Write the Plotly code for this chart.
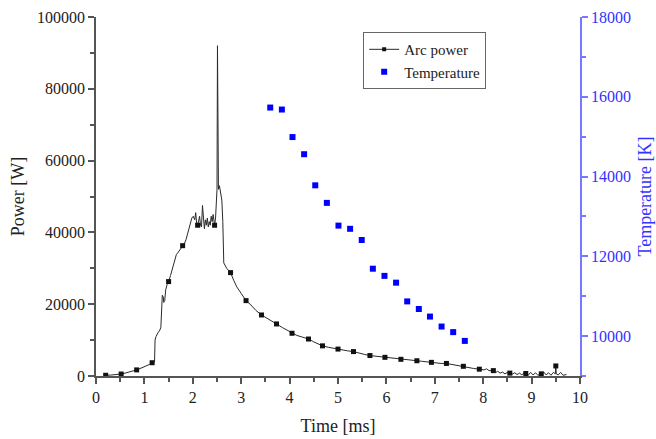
import plotly.graph_objects as go

# Arc power trace (time in ms, power in W)
time_ms = [0.17, 0.20, 0.30, 0.40, 0.52, 0.60, 0.70, 0.84, 0.95, 1.05, 1.10, 1.16, 1.21,
           1.22, 1.24, 1.28, 1.32, 1.34, 1.36, 1.37, 1.39, 1.40, 1.42, 1.44, 1.47, 1.50,
           1.54, 1.58, 1.62, 1.66, 1.70, 1.74, 1.79, 1.83, 1.86, 1.90, 1.95, 1.98, 2.01,
           2.04, 2.06, 2.08, 2.10, 2.12, 2.14, 2.16, 2.18, 2.20, 2.22, 2.24, 2.26, 2.28,
           2.30, 2.32, 2.34, 2.36, 2.38, 2.40, 2.42, 2.45, 2.47, 2.49, 2.50, 2.51, 2.515,
           2.52, 2.525, 2.53, 2.55, 2.58, 2.60, 2.62, 2.64, 2.70, 2.78, 2.85, 2.91, 3.00,
           3.10, 3.20, 3.30, 3.42, 3.50, 3.60, 3.73, 3.85, 3.95, 4.05, 4.15, 4.25, 4.39,
           4.50, 4.60, 4.68, 4.80, 4.90, 5.00, 5.10, 5.20, 5.32, 5.42, 5.55, 5.66, 5.78,
           5.88, 5.97, 6.08, 6.20, 6.30, 6.42, 6.52, 6.63, 6.73, 6.83, 6.93, 7.03, 7.13,
           7.24, 7.35, 7.47, 7.59, 7.70, 7.80, 7.92, 8.02, 8.07, 8.12, 8.21, 8.26, 8.30,
           8.35, 8.40, 8.45, 8.50, 8.55, 8.60, 8.65, 8.70, 8.75, 8.80, 8.85, 8.88, 8.93,
           8.98, 9.03, 9.08, 9.13, 9.20, 9.25, 9.30, 9.35, 9.40, 9.45, 9.49, 9.50, 9.51,
           9.55, 9.60, 9.65, 9.72]
power_w = [100, 200, 250, 350, 550, 800, 1100, 1700, 2300, 2800, 3200, 3700, 4000,
           10000, 11000, 12000, 12800, 13600, 18000, 22500, 22000, 20500, 21000, 24000, 25500, 26300,
           28000, 30000, 32500, 33800, 34500, 35200, 36300, 37000, 38000, 40000, 42500, 44000, 44500,
           43500, 45500, 42500, 42000, 43000, 44500, 42000, 41500, 47500, 43000, 41000, 43500, 42000,
           44000, 41500, 43000, 42000, 44500, 43000, 45000, 42000, 44000, 48000, 52000, 92000, 60000,
           78000, 62000, 52000, 53000, 51000, 49000, 43000, 31500, 30000, 28800, 26500, 24800, 23000,
           21000, 19800, 18300, 17000, 16300, 15500, 14500, 13500, 12700, 11900, 11300, 10900, 10300,
           9500, 8900, 8400, 8000, 7700, 7500, 7200, 7000, 6800, 6400, 6000, 5700, 5500,
           5300, 5200, 5000, 4800, 4650, 4500, 4400, 4250, 4100, 3900, 3800, 3700, 3500,
           3500, 3200, 3000, 2700, 2400, 2100, 1900, 1700, 2000, 1500, 1500, 1000, 1300,
           800, 1100, 600, 1000, 800, 500, 900, 400, 800, 300, 900, 700, 200,
           1000, 300, 900, 200, 600, 1100, 300, 900, 200, 1000, 600, 2800, 600,
           300, 1000, 200, 400]
marker_times = [0.20, 0.52, 0.84, 1.16, 1.50, 1.79, 2.10, 2.45, 2.78, 3.10, 3.42, 3.73,
                4.05, 4.39, 4.68, 5.00, 5.32, 5.66, 5.97, 6.30, 6.63, 6.93, 7.24, 7.59,
                7.92, 8.21, 8.55, 8.88, 9.20, 9.50]

# Temperature points (time in ms, temperature in K)
temp_time = [3.60, 3.84, 4.06, 4.30, 4.53, 4.77, 5.01, 5.25, 5.49, 5.72, 5.96, 6.20,
             6.43, 6.67, 6.90, 7.14, 7.38, 7.62]
temperature = [15730, 15680, 14990, 14560, 13780, 13340, 12770, 12690, 12410, 11690,
               11510, 11340, 10870, 10680, 10490, 10240, 10100, 9880]

x_ticks = list(range(0, 11))
power_ticks = [0, 20000, 40000, 60000, 80000, 100000]
temp_ticks = [10000, 12000, 14000, 16000, 18000]

mk = set(round(t, 3) for t in marker_times)
mx = [t for t in time_ms if round(t, 3) in mk]
my = [p for t, p in zip(time_ms, power_w) if round(t, 3) in mk]

FONT = "Liberation Serif"
AX = "#555555"
BLUE = "#0000ff"
LBLUE = "#7777ff"

fig = go.Figure()
fig.add_trace(go.Scatter(x=time_ms, y=power_w, mode="lines",
                         line=dict(color="#2a2a2a", width=1), showlegend=False,
                         hoverinfo="skip"))
fig.add_trace(go.Scatter(x=mx, y=my, mode="markers",
                         marker=dict(symbol="square", size=5, color="#111111"),
                         showlegend=False))
fig.add_trace(go.Scatter(x=[None], y=[None], mode="lines+markers", name="Arc power",
                         line=dict(color="#2a2a2a", width=1),
                         marker=dict(symbol="square", size=4, color="#111111")))
fig.add_trace(go.Scatter(x=temp_time, y=temperature, mode="markers", name="Temperature",
                         marker=dict(symbol="square", size=6, color=BLUE), yaxis="y2"))

fig.update_layout(
    width=656, height=439,
    margin=dict(l=96, r=76, t=17, b=63),
    paper_bgcolor="white", plot_bgcolor="white",
    font=dict(family=FONT, size=16, color="#222222"),
    xaxis=dict(range=[0, 10], tickvals=x_ticks, showline=True, linecolor=AX, linewidth=1.5,
               ticks="outside", ticklen=6, tickcolor=AX, tickwidth=1.5,
               minor=dict(dtick=0.5, ticks="outside", ticklen=4, tickcolor=AX),
               showgrid=False, zeroline=False, automargin=False,
               title=dict(text="Time [ms]", font=dict(size=18), standoff=14)),
    yaxis=dict(range=[0, 100000], tickvals=power_ticks, tickformat="d", showline=True,
               linecolor=AX, linewidth=1.5, ticks="outside", ticklen=6, tickcolor=AX,
               tickwidth=1.5, automargin=False,
               minor=dict(dtick=10000, ticks="outside", ticklen=4, tickcolor=AX),
               showgrid=False, zeroline=False,
               title=dict(text="Power [W]", font=dict(size=18), standoff=8)),
    yaxis2=dict(range=[9000, 18000], tickvals=temp_ticks, tickformat="d", overlaying="y",
                side="right", anchor="x", showline=True, linecolor=LBLUE, linewidth=1.5,
                ticks="outside", ticklen=6, tickcolor=LBLUE, tickwidth=1.5, automargin=False,
                minor=dict(dtick=1000, tick0=9000, ticks="outside", ticklen=4, tickcolor=LBLUE),
                tickfont=dict(color="#3333ff"), showgrid=False, zeroline=False,
                title=dict(text="Temperature [K]", font=dict(size=18, color="#3333ff"),
                           standoff=8)),
    legend=dict(x=0.552, y=0.958, xanchor="left", yanchor="top",
                bordercolor="#666666", borderwidth=1, bgcolor="white",
                font=dict(size=15, color="#222222"), tracegroupgap=0,
                itemwidth=30),
)

fig.write_html("out.html")
